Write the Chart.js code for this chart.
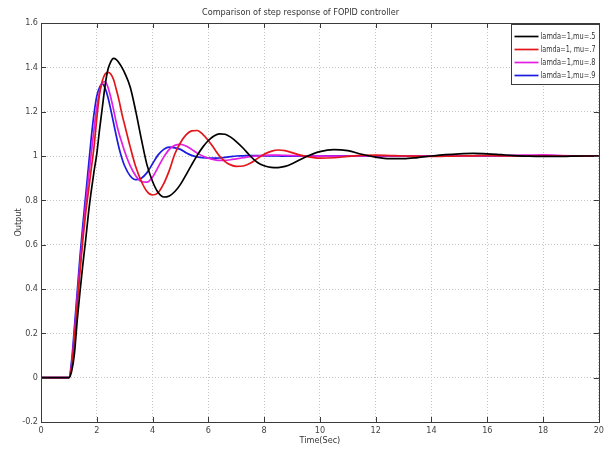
<!DOCTYPE html>
<html>
<head>
<meta charset="utf-8">
<script src="https://cdn.jsdelivr.net/npm/chart.js@4.4.1/dist/chart.umd.min.js"></script>
<style>
  html, body { margin: 0; padding: 0; background: #ffffff; }
  #wrap { width: 607px; height: 449px; }
</style>
</head>
<body>
<div id="wrap"><canvas id="c" width="607" height="449"></canvas></div>
<script>
// ---- data ----
const timeSec = [0, 0.5, 1.0, 1.1, 1.2, 1.3, 1.4, 1.5, 1.6, 1.7, 1.8, 1.9, 2.0, 2.1, 2.2, 2.3, 2.4, 2.5, 2.6, 2.7, 2.8, 2.9, 3.0,
  3.2, 3.4, 3.6, 3.8, 4.0, 4.2, 4.4, 4.6, 4.8, 5.0, 5.2, 5.4, 5.6, 5.8, 6.0, 6.2, 6.4, 6.6, 6.8, 7.0,
  7.25, 7.5, 7.75, 8.0, 8.25, 8.5, 8.75, 9.0,
  9.5, 10, 10.5, 11, 11.5, 12, 12.5, 13, 13.5, 14, 14.5, 15, 15.5, 16, 16.5, 17, 17.5, 18, 18.5, 19, 19.5, 20];

const outputMu5 = [0, 0, 0, 0.03, 0.11, 0.26, 0.39, 0.51, 0.62, 0.74, 0.84, 0.93, 1.01, 1.12, 1.22, 1.32, 1.39, 1.425, 1.44, 1.435, 1.42, 1.40, 1.375,
  1.31, 1.20, 1.075, 0.96, 0.885, 0.835, 0.815, 0.82, 0.84, 0.872, 0.915, 0.96, 1.003, 1.04, 1.07, 1.09, 1.10, 1.098, 1.085, 1.065,
  1.035, 1.0, 0.972, 0.956, 0.949, 0.948, 0.953, 0.965,
  0.997, 1.02, 1.029, 1.024, 1.008, 0.995, 0.988, 0.988, 0.993, 1.0, 1.006, 1.01, 1.012, 1.01, 1.006, 1.002, 0.999, 0.998, 0.998, 0.999, 1.0, 1.0];

const outputMu7 = [0, 0, 0, 0.05, 0.18, 0.33, 0.48, 0.62, 0.74, 0.84, 0.94, 1.04, 1.17, 1.28, 1.34, 1.37, 1.377, 1.37, 1.345, 1.30, 1.25, 1.19, 1.14,
  1.04, 0.95, 0.885, 0.84, 0.824, 0.835, 0.875, 0.935, 1.01, 1.06, 1.095, 1.113, 1.115, 1.098, 1.07, 1.035, 1.0, 0.975, 0.96, 0.953,
  0.955, 0.967, 0.988, 1.008, 1.021, 1.027, 1.024, 1.015,
  0.998, 0.99, 0.992, 0.998, 1.003, 1.004, 1.002, 1.0, 0.999, 0.998, 0.999, 1.0, 1.001, 1.002, 1.001, 1.0, 1.0, 1.0, 1.0, 1.0, 1.0, 1.0];

const outputMu8 = [0, 0, 0, 0.06, 0.20, 0.36, 0.51, 0.65, 0.78, 0.90, 1.01, 1.12, 1.22, 1.29, 1.33, 1.336, 1.31, 1.265, 1.21, 1.15, 1.10, 1.06, 1.02,
  0.955, 0.91, 0.885, 0.882, 0.905, 0.95, 0.995, 1.03, 1.048, 1.052, 1.045, 1.03, 1.013, 1.0, 0.99, 0.984, 0.98, 0.98, 0.983, 0.987,
  0.992, 0.997, 1.0, 1.003, 1.004, 1.004, 1.003, 1.002,
  1.0, 0.999, 0.999, 1.0, 1.001, 1.001, 1.0, 1.0, 0.999, 0.999, 1.0, 1.0, 1.001, 1.002, 1.002, 1.003, 1.004, 1.005, 1.003, 1.001, 1.0, 1.0];

const outputMu9 = [0, 0, 0, 0.08, 0.23, 0.39, 0.55, 0.69, 0.82, 0.95, 1.08, 1.19, 1.27, 1.31, 1.325, 1.305, 1.265, 1.21, 1.15, 1.09, 1.035, 0.99, 0.955,
  0.91, 0.893, 0.9, 0.925, 0.965, 1.005, 1.03, 1.04, 1.037, 1.03, 1.015, 1.003, 0.996, 0.992, 0.99, 0.99, 0.991, 0.994, 0.997, 1.0,
  1.001, 1.002, 1.002, 1.001, 1.0, 1.0, 0.999, 0.999,
  1.0, 1.0, 1.001, 1.001, 1.0, 1.0, 0.999, 0.999, 1.0, 1.0, 1.001, 1.001, 1.001, 1.0, 1.0, 1.0, 1.0, 1.0, 1.0, 1.0, 1.0, 1.0];

const seriesLabels = ['lamda=1,mu=.5', 'lamda=1, mu=.7', 'lamda=1,mu=.8', 'lamda=1,mu=.9'];
const xTickValues = [0, 2, 4, 6, 8, 10, 12, 14, 16, 18, 20];
const yTickValues = [-0.2, 0, 0.2, 0.4, 0.6, 0.8, 1, 1.2, 1.4, 1.6];
const chartTitle = 'Comparison of step response of FOPID controller';
const xTitle = 'Time(Sec)';
const yTitle = 'Output';

// ---- styling ----
const FONT = "'Liberation Sans Narrow', 'DejaVu Sans Condensed', 'Liberation Sans', Arial, sans-serif";
const lineColors = ['#000000', '#e3161b', '#e11ee1', '#1c1ce0'];
const toPts = arr => arr.map((v, i) => ({ x: timeSec[i], y: v }));
const seriesValues = [outputMu5, outputMu7, outputMu8, outputMu9];

const datasets = seriesValues.map((vals, k) => ({
  label: seriesLabels[k],
  data: toPts(vals),
  borderColor: lineColors[k],
  backgroundColor: lineColors[k],
  borderWidth: 1.7,
  pointRadius: 0,
  fill: false,
  cubicInterpolationMode: 'monotone'
}));

// inward ticks + full box (MATLAB-style axes)
const boxPlugin = {
  id: 'boxPlugin',
  afterDatasetsDraw(chart) {
    const { ctx, chartArea: a, scales } = chart;
    ctx.save();
    ctx.strokeStyle = '#3a3a3a';
    ctx.lineWidth = 1;
    ctx.beginPath();
    scales.x.ticks.forEach(t => {
      const px = Math.round(scales.x.getPixelForValue(t.value)) + 0.5;
      ctx.moveTo(px, a.bottom); ctx.lineTo(px, a.bottom - 5);
      ctx.moveTo(px, a.top); ctx.lineTo(px, a.top + 5);
    });
    scales.y.ticks.forEach(t => {
      const py = Math.round(scales.y.getPixelForValue(t.value)) + 0.5;
      ctx.moveTo(a.left, py); ctx.lineTo(a.left + 5, py);
      ctx.moveTo(a.right, py); ctx.lineTo(a.right - 5, py);
    });
    ctx.stroke();
    ctx.strokeRect(Math.round(a.left) + 0.5, Math.round(a.top) + 0.5,
                   Math.round(a.right - a.left), Math.round(a.bottom - a.top));
    ctx.restore();
  }
};

// legend drawn inside the plot, top-right
const insideLegend = {
  id: 'insideLegend',
  afterDraw(chart) {
    const { ctx, chartArea: a } = chart;
    const w = 88, rowH = 13, h = 60;
    const x0 = Math.round(a.right - w) + 0.5, y0 = Math.round(a.top + 1) + 0.5;
    ctx.save();
    ctx.fillStyle = '#ffffff';
    ctx.fillRect(x0, y0, w, h);
    ctx.strokeStyle = '#3a3a3a';
    ctx.lineWidth = 1;
    ctx.strokeRect(x0, y0, w, h);
    ctx.font = '9px ' + FONT;
    ctx.textBaseline = 'middle';
    chart.data.datasets.forEach((ds, i) => {
      const yy = y0 + 12 + i * rowH;
      ctx.strokeStyle = ds.borderColor;
      ctx.lineWidth = 1.7;
      ctx.beginPath();
      ctx.moveTo(x0 + 3, yy); ctx.lineTo(x0 + 27, yy);
      ctx.stroke();
      ctx.fillStyle = '#333333';
      ctx.fillText(ds.label, x0 + 29, yy, w - 33);
    });
    ctx.restore();
  }
};

const gridStyle = { color: '#c4c4c4', lineWidth: 1, drawTicks: false };

new Chart(document.getElementById('c'), {
  type: 'line',
  data: { datasets },
  options: {
    responsive: false,
    animation: false,
    layout: { padding: { left: 0, right: 6, top: 0, bottom: 0 } },
    plugins: {
      legend: { display: false },
      tooltip: { enabled: false },
      title: {
        display: true,
        text: chartTitle,
        color: '#333333',
        font: { family: FONT, size: 9, weight: 'normal' },
        padding: { top: 7, bottom: 5.2 }
      }
    },
    scales: {
      x: {
        type: 'linear',
        min: 0, max: 20,
        afterBuildTicks: s => { s.ticks = xTickValues.map(v => ({ value: v })); },
        afterFit: s => { s.height = 27; },
        ticks: { color: '#444444', font: { family: FONT, size: 9 }, padding: 3, maxRotation: 0, autoSkip: false },
        grid: gridStyle,
        border: { display: false, dash: [1, 2] },
        title: { display: true, text: xTitle, color: '#333333', font: { family: FONT, size: 9 }, padding: { top: 0, bottom: 3 } }
      },
      y: {
        type: 'linear',
        min: -0.2, max: 1.6,
        afterBuildTicks: s => { s.ticks = yTickValues.map(v => ({ value: v })); },
        afterFit: s => { s.width = 41; },
        ticks: { color: '#444444', font: { family: FONT, size: 9 }, padding: 3, autoSkip: false,
                 callback: v => String(Math.round(v * 10) / 10) },
        grid: gridStyle,
        border: { display: false, dash: [1, 2] },
        title: { display: true, text: yTitle, color: '#333333', font: { family: FONT, size: 9 }, padding: { top: 13, bottom: 0 } }
      }
    }
  },
  plugins: [boxPlugin, insideLegend]
});
</script>
</body>
</html>
